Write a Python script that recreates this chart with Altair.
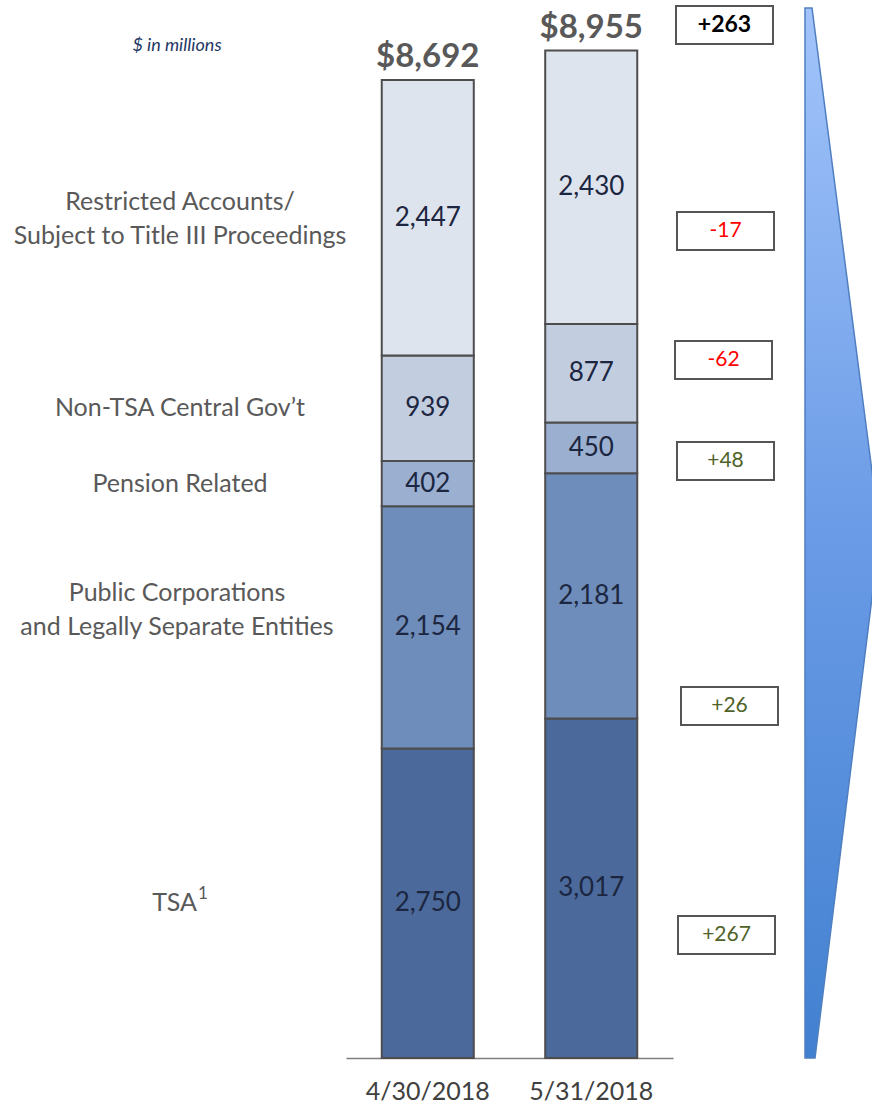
import altair as alt
import pandas as pd

# ---------------- data ----------------
dates = ["4/30/2018", "5/31/2018"]
categories = [
    "TSA",
    "Public Corporations\nand Legally Separate Entities",
    "Pension Related",
    "Non-TSA Central Gov’t",
    "Restricted Accounts/\nSubject to Title III Proceedings",
]
values_apr = [2750, 2154, 402, 939, 2447]
values_may = [3017, 2181, 450, 877, 2430]
totals = [8692, 8955]
delta_labels = ["+263", "-17", "-62", "+48", "+26", "+267"]
delta_values = [263, -17, -62, 48, 26, 267]

# ---------------- layout (pixels) ----------------
W, H_PLOT, PAD_B = 872, 1058, 47
Y_MAX = 9404  # value at the top edge of the plot area
seg_colors = ["#4B6A9B", "#6E8DBA", "#9BAFD0", "#C3CDE0", "#DEE4EE"]
label_dy = [0, -34, 0, 0, -16]
label_x = [175, 177, 180, 180, 180]
box_cy = [25, 231, 360, 461, 706, 935]
box_x1 = [676, 677, 675, 677, 681, 678]
box_w = 97
box_h = 38
FONT = "Lato"
LABEL_SIZE = 25

rows = []
for d, vals in zip(dates, [values_apr, values_may]):
    base = 0
    for i, (c, v) in enumerate(zip(categories, vals)):
        rows.append(dict(date=d, cat=c, order=i, value=v, y0=base, y1=base + v,
                         mid=base + v / 2, label=f"{v:,}"))
        base += v
bars_df = pd.DataFrame(rows)
tot_df = pd.DataFrame(dict(date=dates, total=totals, label=[f"${t:,}" for t in totals]))

xs = alt.Scale(domain=dates, range=[346, 673], paddingInner=0.437, paddingOuter=0.2187)
ys = alt.Scale(domain=[0, Y_MAX], nice=False, zero=False)
px_x = alt.Scale(domain=[0, W], range=[0, W], nice=False, zero=False)
px_y = alt.Scale(domain=[0, H_PLOT], range=[0, H_PLOT], nice=False, zero=False)

bars = alt.Chart(bars_df).mark_bar(stroke="#4D4D4D", strokeWidth=2).encode(
    x=alt.X("date:N", scale=xs, sort=dates,
            axis=alt.Axis(title=None, ticks=False, domainColor="#7F7F7F", domainWidth=1.5,
                          labelFontSize=25, labelColor="#404040", labelFont=FONT,
                          labelPadding=21, labelAngle=0)),
    y=alt.Y("y0:Q", scale=ys, axis=None),
    y2="y1:Q",
    color=alt.Color("cat:N", scale=alt.Scale(domain=categories, range=seg_colors), legend=None),
)

bar_text = alt.Chart(bars_df).mark_text(font=FONT, fontSize=26, color="#1C2640", baseline="middle").encode(
    x=alt.X("date:N", scale=xs, sort=dates, axis=None),
    y=alt.Y("mid:Q", scale=ys, axis=None),
    text="label:N",
)

tot_text = alt.Chart(tot_df).mark_text(font=FONT, fontSize=33, fontWeight="bold", color="#595959",
                                       baseline="alphabetic", dy=-13).encode(
    x=alt.X("date:N", scale=xs, sort=dates, axis=None),
    y=alt.Y("total:Q", scale=ys, axis=None),
    text="label:N",
)

left_df = bars_df[bars_df.date == dates[0]]
left_layers = []
for i, c in enumerate(categories):
    left_layers.append(
        alt.Chart(left_df).transform_filter(alt.datum.order == i).mark_text(
            font=FONT, fontSize=LABEL_SIZE, color="#595959", lineBreak="\n", lineHeight=34,
            baseline="middle", align="center" if i != 0 else "right", dy=label_dy[i]).encode(
            x=alt.value(label_x[i] + (22 if i == 0 else 0)),
            y=alt.Y("mid:Q", scale=ys, axis=None),
            text="cat:N",
        )
    )
# footnote marker on TSA
left_layers.append(
    alt.Chart(left_df).transform_filter(alt.datum.order == 0).transform_calculate(
        note="'1'").mark_text(
        font=FONT, fontSize=17, color="#595959", baseline="middle", align="left", dy=-9).encode(
        x=alt.value(label_x[0] + 23),
        y=alt.Y("mid:Q", scale=ys, axis=None),
        text="note:N",
    )
)

unit_text = alt.Chart(pd.DataFrame({"t": ["$ in millions"]})).mark_text(
    font=FONT, fontSize=18, fontStyle="italic", color="#1F3864").encode(
    x=alt.value(177), y=alt.value(46), text="t:N")

# arrow
arrow_df = pd.DataFrame(dict(py=[8, 533, 1058], left=[805, 805, 805], right=[812, 880, 815]))
arrow = alt.Chart(arrow_df).mark_area(
    orient="horizontal", stroke="#4F7FC0", strokeWidth=1.5,
    color=alt.Gradient(gradient="linear", x1=0, y1=0, x2=0, y2=1,
                       stops=[alt.GradientStop(color="#A2C4FA", offset=0),
                              alt.GradientStop(color="#6A9BE6", offset=0.5),
                              alt.GradientStop(color="#4281D0", offset=1)])
).encode(
    y=alt.Y("py:Q", scale=px_y, axis=None),
    x=alt.X("left:Q", scale=px_x, axis=None),
    x2="right:Q",
)

box_df = pd.DataFrame(dict(
    label=delta_labels, value=delta_values, cy=box_cy,
    x1=box_x1, x2=[b + box_w for b in box_x1],
    y1=[c - box_h / 2 for c in box_cy], y2=[c + box_h / 2 for c in box_cy],
    cx=[b + box_w / 2 for b in box_x1],
    kind=["total", "neg", "neg", "pos", "pos", "pos"],
))
boxes = alt.Chart(box_df).mark_rect(fill="white", stroke="#555555", strokeWidth=2).encode(
    x=alt.X("x1:Q", scale=px_x, axis=None), x2="x2:Q",
    y=alt.Y("y1:Q", scale=px_y, axis=None), y2="y2:Q",
)
box_text = alt.Chart(box_df).transform_filter(alt.datum.kind != "total").mark_text(
    font=FONT, fontSize=21, baseline="middle").encode(
    x=alt.X("cx:Q", scale=px_x, axis=None),
    y=alt.Y("cy:Q", scale=px_y, axis=None),
    text="label:N",
    color=alt.Color("kind:N", scale=alt.Scale(domain=["neg", "pos"], range=["#FF0000", "#4F6228"]),
                    legend=None),
)
box_total = alt.Chart(box_df).transform_filter(alt.datum.kind == "total").mark_text(
    font=FONT, fontSize=23, fontWeight="bold", baseline="middle", color="#000000").encode(
    x=alt.X("cx:Q", scale=px_x, axis=None),
    y=alt.Y("cy:Q", scale=px_y, axis=None),
    text="label:N",
)

chart = alt.layer(
    arrow, bars, bar_text, tot_text, *left_layers, unit_text, boxes, box_text, box_total
).resolve_scale(x="independent", y="independent", color="independent").properties(
    width=W, height=H_PLOT,
    autosize=alt.AutoSizeParams(type="none"),
    padding={"left": 0, "top": 0, "right": 0, "bottom": PAD_B},
    background="white",
).configure_view(stroke=None)

chart.save("out.html", embed_options={"renderer": "svg", "actions": False})
